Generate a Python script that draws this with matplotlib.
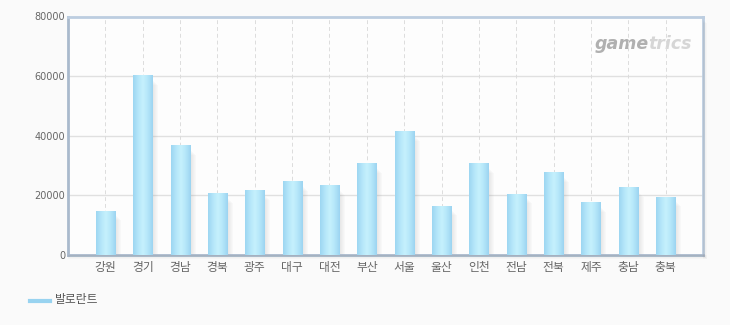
import matplotlib
matplotlib.use("Agg")
import matplotlib.pyplot as plt
import numpy as np
from matplotlib.colors import LinearSegmentedColormap
from matplotlib.patches import Rectangle

plt.rcParams['font.family'] = ['Noto Sans CJK KR', 'DejaVu Sans']

regions = ['강원', '경기', '경남', '경북', '광주', '대구', '대전', '부산',
           '서울', '울산', '인천', '전남', '전북', '제주', '충남', '충북']
values = [14600, 60200, 36600, 20600, 21600, 24600, 23300, 30600,
          41300, 16300, 30600, 20300, 27600, 17600, 22600, 19300]
y_ticks = [0, 20000, 40000, 60000, 80000]
series_name = '발로란트'

fig = plt.figure(figsize=(7.30, 3.25), dpi=100, facecolor='#fafafa')
ax = fig.add_axes([68 / 730, 70 / 325, 635 / 730, 238.5 / 325])
ax.set_facecolor('#fdfdfd')

x = np.arange(1, len(regions) + 1)
bar_w = 0.51
px_x = 1 / 37.35
px_y = 80000 / 238.5

# horizontal gradient for bars: darker edges, bright centre
bar_cmap = LinearSegmentedColormap.from_list(
    'bar', ['#9dd6f2', '#b4e6f9', '#c6f1fd', '#b4e6f9', '#9cd4f1'])
grad = np.linspace(0, 1, 64).reshape(1, -1)

for xi, v in zip(x, values):
    # soft drop shadow
    for k in range(1, 7):
        ax.add_patch(Rectangle((xi - bar_w / 2 + k * px_x, 0),
                               bar_w, v - (k + 3) * px_y,
                               facecolor='#888888', alpha=0.035,
                               edgecolor='none', zorder=2))
    ax.imshow(grad, cmap=bar_cmap, aspect='auto',
              extent=(xi - bar_w / 2, xi + bar_w / 2, 0, v),
              zorder=3, interpolation='bilinear')

ax.set_xlim(0, len(regions) + 1)
ax.set_ylim(0, 80000)

# grid: solid horizontal, dashed vertical
for yt in y_ticks[1:-1]:
    ax.axhline(yt, color='#e0e0e0', lw=1, zorder=1)
for xi in x:
    ax.axvline(xi, color='#dcdcdc', lw=0.7, ls=(0, (4, 3)), zorder=1)

ax.set_xticks(x)
ax.set_xticklabels(regions, fontsize=8.5, color='#666666')
ax.set_yticks(y_ticks)
ax.set_yticklabels([str(t) for t in y_ticks], fontsize=7,
                   color='#666666', family=['DejaVu Sans'])
ax.tick_params(axis='both', length=0)
ax.tick_params(axis='x', pad=4)
ax.tick_params(axis='y', pad=2)

for side in ['left', 'bottom']:
    ax.spines[side].set_color('#a9b9cc')
    ax.spines[side].set_linewidth(2)
for side in ['top', 'right']:
    ax.spines[side].set_color('#bccde0')
    ax.spines[side].set_linewidth(2)

# frame shadow on right and bottom
for k in range(1, 5):
    fig.add_artist(Rectangle((68 / 730, (70 - k) / 325), (635 + k) / 730, k / 325,
                             transform=fig.transFigure, facecolor='#999999',
                             alpha=0.05, edgecolor='none'))
    fig.add_artist(Rectangle((703 / 730, (70 - k) / 325), k / 730, (238.5 - 3) / 325,
                             transform=fig.transFigure, facecolor='#999999',
                             alpha=0.05, edgecolor='none'))

# brand watermark
ax.text(0.983, 0.885, 'game', transform=ax.transAxes, ha='right',
        va='center', fontsize=12.5, fontstyle='italic', fontweight='bold',
        color='#b0b0b0', family=['DejaVu Sans'], zorder=0)
ax.text(0.983, 0.885, 'trics', transform=ax.transAxes, ha='right',
        va='center', fontsize=12.5, fontstyle='italic', fontweight='bold',
        color='#d6d6d6', family=['DejaVu Sans'], zorder=0, alpha=0)
fig.canvas.draw()
renderer = fig.canvas.get_renderer()
# place the two-tone word: 'game' darker, 'trics' lighter
t_end = ax.texts[-1]
bb = t_end.get_window_extent(renderer)
t_end.set_alpha(1)
ax.texts[0].set_position((0.983 - (bb.width / ax.bbox.width), 0.885))

# legend
fig.add_artist(plt.Line2D([30 / 730, 50 / 730], [1 - 301 / 325, 1 - 301 / 325],
                          color='#98d3f0', lw=3, transform=fig.transFigure))
fig.text(55 / 730, 1 - 299 / 325, series_name, fontsize=8.5, color='#555555',
         va='center', ha='left')

fig.savefig('out.png', dpi=100, facecolor=fig.get_facecolor())
